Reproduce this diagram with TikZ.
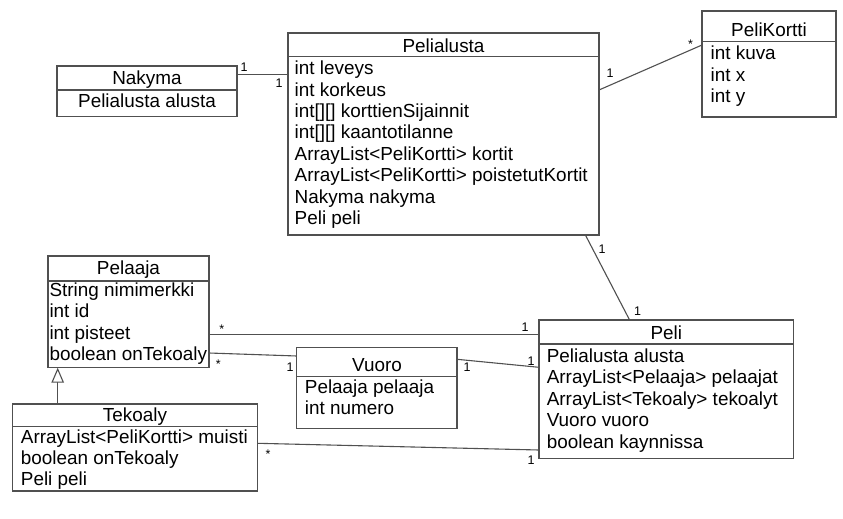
\documentclass[tikz,border=0pt]{standalone}
\usepackage{fontspec}
\setmainfont{Liberation Sans}
\usetikzlibrary{calc,arrows.meta}
\definecolor{linec}{HTML}{505050}
\begin{document}
\begin{tikzpicture}[x=1pt,y=-1pt,
 cls/.style={draw=linec, line width=1.1pt, anchor=north west, inner sep=0pt, outer sep=0pt},
 txt/.style={inner sep=0pt, text height=13.5pt, text depth=4pt, font=\fontsize{18.9}{21.4}\selectfont},
 attr/.style={txt, anchor=west},
 ttl/.style={txt, anchor=center},
 mult/.style={inner sep=0pt, font=\fontsize{12.5}{14}\selectfont},
 assoc/.style={draw=linec, line width=1.1pt},
 divl/.style={draw=linec, line width=1.1pt},
]
\fill[white] (0,0) rectangle (843,519);
\useasboundingbox (0,0) rectangle (843,519);

% Nakyma
\node[cls, minimum width=180pt, minimum height=50.7pt] (nakyma) at (57,66) {};
\draw[divl] ($(nakyma.north west)+(0,24)$) -- ($(nakyma.north east)+(0,24)$);
\node[ttl] (nakyma-t) at (147,80) {Nakyma};
\node[ttl] (nakyma-a1) at (147,102.3) {Pelialusta alusta};

% Pelialusta
\node[cls, minimum width=311pt, minimum height=202pt] (pelialusta) at (288,33) {};
\draw[divl] ($(pelialusta.north west)+(0,23.5)$) -- ($(pelialusta.north east)+(0,23.5)$);
\node[ttl] (pelialusta-t) at (443.5,48) {Pelialusta};
\node[attr] (pa1) at (294.5,70)  {int leveys};
\node[attr] (pa2) at (294.5,91.4) {int korkeus};
\node[attr] (pa3) at (294.5,112.8) {int[][] korttienSijainnit};
\node[attr] (pa4) at (294.5,134.2) {int[][] kaantotilanne};
\node[attr] (pa5) at (294.5,155.6) {ArrayList<PeliKortti> kortit};
\node[attr] (pa6) at (294.5,177) {ArrayList<PeliKortti> poistetutKortit};
\node[attr] (pa7) at (294.5,198.4) {Nakyma nakyma};
\node[attr] (pa8) at (294.5,219.8) {Peli peli};

% PeliKortti
\node[cls, minimum width=134pt, minimum height=106pt] (pelikortti) at (702,11) {};
\draw[divl] ($(pelikortti.north west)+(0,30.5)$) -- ($(pelikortti.north east)+(0,30.5)$);
\node[ttl] (pelikortti-t) at (769,32) {PeliKortti};
\node[attr] (pk1) at (710.4,55) {int kuva};
\node[attr] (pk2) at (710.4,76.5) {int x};
\node[attr] (pk3) at (710.4,98) {int y};

% Pelaaja
\node[cls, minimum width=161pt, minimum height=111.7pt] (pelaaja) at (48,256) {};
\draw[divl] ($(pelaaja.north west)+(0,25)$) -- ($(pelaaja.north east)+(0,25)$);
\node[ttl] (pelaaja-t) at (128.5,270) {Pelaaja};
\node[attr] (pl1) at (49.3,291.7) {String nimimerkki};
\node[attr] (pl2) at (49.3,313) {int id};
\node[attr] (pl3) at (49.3,334.4) {int pisteet};
\node[attr] (pl4) at (49.3,355.8) {boolean onTekoaly};

% Tekoaly
\node[cls, minimum width=244.8pt, minimum height=87pt] (tekoaly) at (12.7,404) {};
\draw[divl] ($(tekoaly.north west)+(0,22.5)$) -- ($(tekoaly.north east)+(0,22.5)$);
\node[ttl] (tekoaly-t) at (135,417) {Tekoaly};
\node[attr] (tk1) at (20.7,438.5) {ArrayList<PeliKortti> muisti};
\node[attr] (tk2) at (20.7,459.5) {boolean onTekoaly};
\node[attr] (tk3) at (20.7,480.5) {Peli peli};

% Vuoro
\node[cls, minimum width=160.2pt, minimum height=81pt] (vuoro) at (296.8,347.3) {};
\draw[divl] ($(vuoro.north west)+(0,29.4)$) -- ($(vuoro.north east)+(0,29.4)$);
\node[ttl] (vuoro-t) at (377,366.5) {Vuoro};
\node[attr] (vu1) at (304.7,388.5) {Pelaaja pelaaja};
\node[attr] (vu2) at (304.7,410) {int numero};

% Peli
\node[cls, minimum width=254.5pt, minimum height=138.5pt] (peli) at (539,320) {};
\draw[divl] ($(peli.north west)+(0,24)$) -- ($(peli.north east)+(0,24)$);
\node[ttl] (peli-t) at (666.3,335) {Peli};
\node[attr] (pe1) at (546.6,357.7) {Pelialusta alusta};
\node[attr] (pe2) at (546.6,379.1) {ArrayList<Pelaaja> pelaajat};
\node[attr] (pe3) at (546.6,400.5) {ArrayList<Tekoaly> tekoalyt};
\node[attr] (pe4) at (546.6,421.9) {Vuoro vuoro};
\node[attr] (pe5) at (546.6,443.3) {boolean kaynnissa};

% Associations
\draw[assoc] ($(nakyma.north east)+(0,8.3)$) -- ($(pelialusta.north west)+(0,41.3)$);
\draw[assoc] ($(pelialusta.north east)+(0,57)$) -- ($(pelikortti.north west)+(0,34)$);
\draw[assoc] ($(pelialusta.south east)+(-13.6,0)$) -- ($(peli.north west)+(90.6,0)$);
\draw[assoc] ($(pelaaja.north east)+(0,78.3)$) -- ($(peli.north west)+(0,14.3)$);
\draw[assoc] ($(pelaaja.north east)+(0,97)$) -- ($(vuoro.north west)+(0,8.7)$);
\draw[assoc] ($(vuoro.north east)+(0,12)$) -- ($(peli.north west)+(0,47.3)$);
\draw[assoc] ($(tekoaly.north east)+(0,39.3)$) -- ($(peli.north west)+(0,130)$);
% Generalization
\draw[assoc, -{Triangle[open, length=15pt, width=12.5pt, fill=white]}] ($(tekoaly.north west)+(45,0)$) -- ($(pelaaja.south west)+(9.7,0)$);

% Multiplicities
\node[mult] (m1) at (244,67) {1};
\node[mult] (m2) at (279,83) {1};
\node[mult] (m3) at (610,73.5) {1};
\node[mult] (m4) at (690.5,44) {*};
\node[mult] (m5) at (602,249.3) {1};
\node[mult] (m6) at (637.5,310.7) {1};
\node[mult] (m7) at (221.7,329) {*};
\node[mult] (m8) at (525,326.7) {1};
\node[mult] (m9) at (218.3,364) {*};
\node[mult] (m10) at (290,366.7) {1};
\node[mult] (m11) at (467,367.3) {1};
\node[mult] (m12) at (531,361) {1};
\node[mult] (m13) at (268,454) {*};
\node[mult] (m14) at (531,460) {1};
\end{tikzpicture}
\end{document}
